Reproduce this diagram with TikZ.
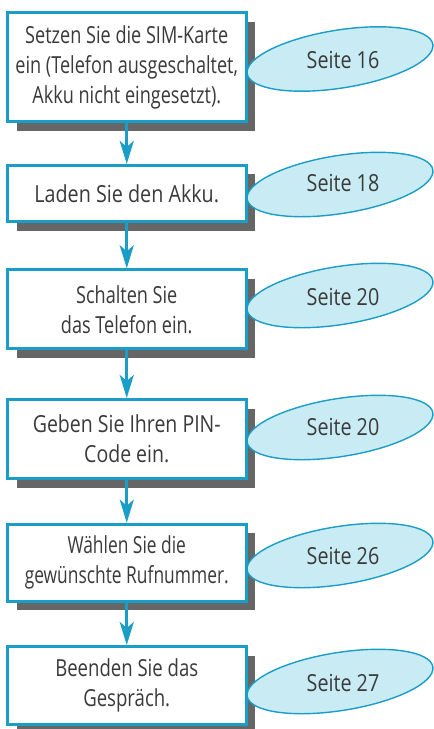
\documentclass[tikz,border=0pt]{standalone}
\usepackage{fontspec}
\setmainfont{Open Sans}[FakeStretch=0.84]
\usetikzlibrary{shapes.geometric,shadows,arrows.meta}
\definecolor{framecyan}{HTML}{1A9DC6}
\definecolor{bubblefill}{HTML}{C9EBF3}
\definecolor{shadowgray}{HTML}{666666}
\definecolor{textgray}{HTML}{3A3A3A}
\tikzset{
  stepbox/.style={draw=framecyan, line width=3pt, fill=white, inner sep=0pt,
    minimum width=238.5pt, align=center, text=textgray,
    font=\fontsize{23.5}{30}\selectfont,
    drop shadow={shadow xshift=9pt, shadow yshift=-9pt, fill=shadowgray, opacity=1}},
  squeeze/.style={font=\fontsize{23.5}{30}\selectfont\addfontfeatures{FakeStretch=#1}},
  bubble/.style={ellipse, draw=framecyan, line width=1.4pt, fill=bubblefill,
    inner sep=0pt, minimum width=188pt, minimum height=58pt, rotate=9},
  bubbletext/.style={text=textgray, inner sep=0pt, font=\fontsize{23.5}{30}\selectfont},
  flow/.style={draw=framecyan, line width=3pt,
    -{Stealth[length=23pt, width=14pt, inset=6pt]}}
}
\begin{document}
\begin{tikzpicture}[x=1pt,y=-1pt]
\useasboundingbox (0,0) rectangle (434,729);
\node[stepbox, squeeze=0.77, minimum height=109pt] (b1) at (126.75,67) {Setzen Sie die SIM-Karte\\ein (Telefon ausgeschaltet,\\Akku nicht eingesetzt).};
\node[stepbox, squeeze=0.84, minimum height=56.3pt] (b2) at (126.75,193.6) {Laden Sie den Akku.};
\node[stepbox, squeeze=0.77, minimum height=79pt] (b3) at (126.75,309.3) {Schalten Sie\\das Telefon ein.};
\node[stepbox, squeeze=0.83, minimum height=79pt] (b4) at (126.75,439) {Geben Sie Ihren PIN-\\Code ein.};
\node[stepbox, squeeze=0.74, minimum height=77pt] (b5) at (126.75,562.7) {Wählen Sie die\\gewünschte Rufnummer.};
\node[stepbox, squeeze=0.79, minimum height=78pt] (b6) at (126.75,685.5) {Beenden Sie das\\Gespräch.};
\draw[flow] (b1.south) -- (b2.north);
\draw[flow] (b2.south) -- (b3.north);
\draw[flow] (b3.south) -- (b4.north);
\draw[flow] (b4.south) -- (b5.north);
\draw[flow] (b5.south) -- (b6.north);
\node[bubble] (e1) at (340,59) {};
\node[bubble] (e2) at (340,184.5) {};
\node[bubble] (e3) at (340,295.5) {};
\node[bubble] (e4) at (340,427.5) {};
\node[bubble] (e5) at (340,555.5) {};
\node[bubble] (e6) at (340,681.5) {};
\node[bubbletext] (t1) at (343,60) {Seite 16};
\node[bubbletext] (t2) at (343,183) {Seite 18};
\node[bubbletext] (t3) at (343,297) {Seite 20};
\node[bubbletext] (t4) at (343,427) {Seite 20};
\node[bubbletext] (t5) at (343,556) {Seite 26};
\node[bubbletext] (t6) at (343,683) {Seite 27};
\end{tikzpicture}
\end{document}
